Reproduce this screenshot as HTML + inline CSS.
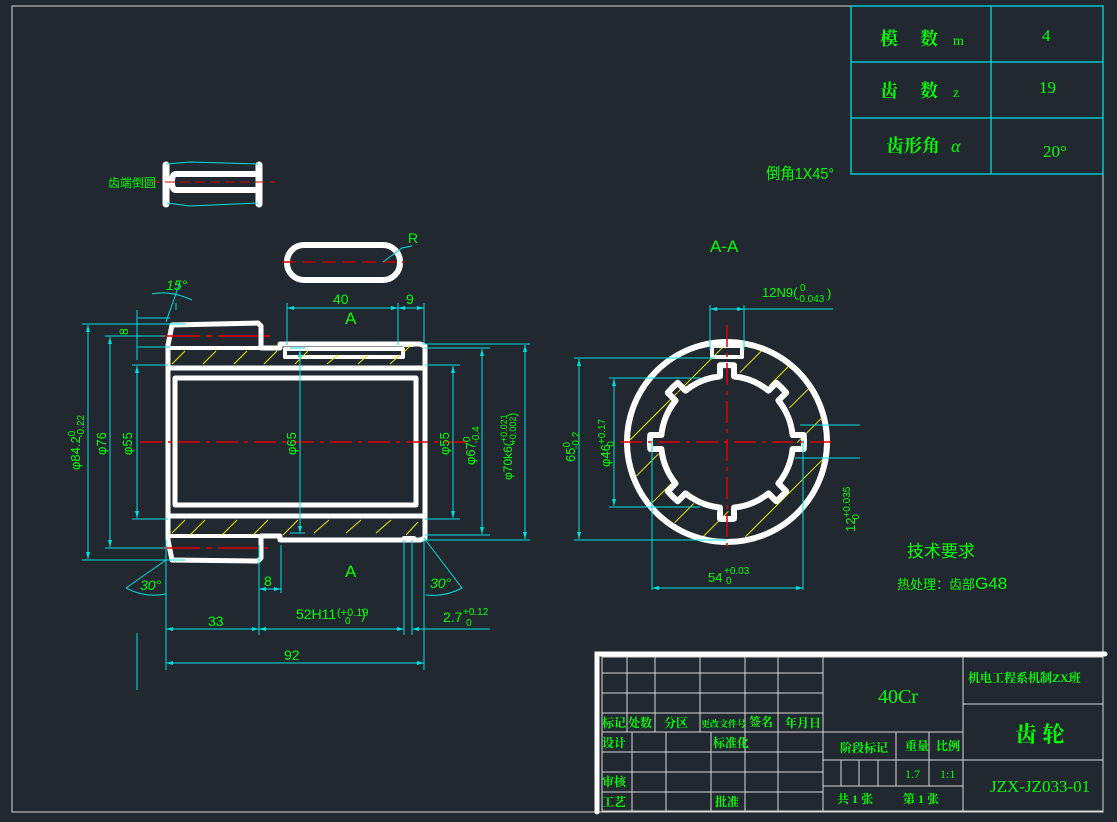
<!DOCTYPE html>
<html><head><meta charset="utf-8"><style>
html,body{margin:0;padding:0;background:#212830;}
svg{display:block}
text{font-family:"Liberation Sans","Noto Sans CJK SC",sans-serif;fill:#00ff00}
.sf text{font-family:"Liberation Serif","Noto Serif CJK SC",serif}
.cy{stroke:#00e0e0;stroke-width:1;fill:none}
.w{stroke:#fff;fill:none;stroke-linejoin:round;stroke-linecap:round}
.red{stroke:#e00000;stroke-width:1.5;stroke-dasharray:22 6 4 6;fill:none}
.hy{stroke:#e8e800;stroke-width:1}
.tb{stroke:#d8d8d8;stroke-width:1;fill:none}
</style></head><body>
<svg id="s" width="1117" height="822" viewBox="0 0 1117 822" xmlns="http://www.w3.org/2000/svg">
<rect width="1117" height="822" fill="#212830"/>
<rect x="12" y="6" width="1091" height="806" class="tb"/>
<g stroke="#00c8c8" stroke-width="1.5" fill="none">
<rect x="851" y="6" width="252" height="168"/>
<line x1="991" y1="6" x2="991" y2="174"/>
<line x1="851" y1="62" x2="1103" y2="62"/>
<line x1="851" y1="118" x2="1103" y2="118"/>
</g>
<g font-size="18" class="sf">
<text x="880" y="45" font-weight="bold">模</text><text x="920" y="45" font-weight="bold">数</text><text x="953" y="45" font-size="14">m</text>
<text x="1042" y="41" font-size="17">4</text>
<text x="880" y="97" font-weight="bold">齿</text><text x="920" y="97" font-weight="bold">数</text><text x="953" y="97" font-size="14">z</text>
<text x="1039" y="93" font-size="17">19</text>
<text x="886" y="152" font-weight="bold">齿形角</text><text x="951" y="152" font-style="italic">α</text>
<text x="1043" y="157" font-size="17">20°</text>
</g>
<text x="766" y="179" font-size="16" transform="translate(766,0) scale(0.9,1) translate(-766,0)">倒角1X45°</text>

<g class="w" stroke-width="7">
<line x1="166" y1="165" x2="166" y2="204"/><line x1="259" y1="165" x2="259" y2="204"/>
<path d="M259 174 H176 Q172 174 172 182 Q172 190 176 190 H259" stroke-width="6"/>
</g>
<path d="M167 164 L190 162 L258 164 M167 203 L190 206 L258 203" class="cy"/>
<line x1="150" y1="182" x2="275" y2="182" stroke="#e00000" stroke-width="1" stroke-dasharray="10 5"/>
<text x="108" y="187" font-size="12">齿端倒圆</text>
<rect x="287" y="245" width="113" height="35" rx="17" class="w" stroke-width="6"/>
<line x1="282" y1="262" x2="405" y2="262" stroke="#c00000" stroke-width="1.5" stroke-dasharray="14 6"/>
<path d="M383 262 L402 248 L412 246" class="cy"/>
<text x="408" y="243" font-size="14">R</text>

<g class="w" stroke-width="5">
<path d="M168 345 L172 325 L258 323 L261 326 L261 348 L280 348 L280 344 L420 344 L425 346 L425 538 L420 540 L280 540 L280 536 L261 536 L261 558 L258 561 L172 560 L168 540 Z"/>
<rect x="175" y="378" width="241" height="127"/>
<line x1="170" y1="368" x2="424" y2="368"/>
<line x1="170" y1="516" x2="424" y2="516"/>
<path d="M285 349 L403 349 L403 357 L285 357 Z" stroke-width="4"/>
<line x1="168" y1="348" x2="258" y2="348" stroke-width="4"/>
<line x1="168" y1="536" x2="258" y2="536" stroke-width="4"/>
<path d="M404 345 L412 345 M404 538 L414 538" stroke-width="4"/>
</g>
<g class="hy">
<path d="M172 364 L185 351 M203 364 L216 351 M234 364 L247 351 M264 364 L277 351 M295 364 L308 351 M327 364 L338 355 M358 364 L368 355 M390 364 L400 355 M404 352 L410 346"/>
<path d="M172 533 L185 520 M190 535 L205 520 M222 535 L237 520 M253 535 L268 520 M283 535 L298 520 M314 533 L329 520 M346 533 L361 520 M376 533 L391 520 M406 535 L418 522"/>
</g>
<line x1="140" y1="442" x2="470" y2="442" class="red"/>
<line x1="160" y1="336" x2="270" y2="336" stroke="#e00000" stroke-width="1.5" stroke-dasharray="40 6 6 6"/>
<line x1="160" y1="548" x2="268" y2="548" stroke="#e00000" stroke-width="1.5" stroke-dasharray="40 6 6 6"/>
<g class="cy">
<path d="M82 324 H185 M82 560 H185 M105 336 H165 M105 548 H165 M132 365 H168 M132 519 H168"/>
<path d="M88 325 V559 M110 337 V547 M137 366 V518"/>
<path d="M138 318 H170 M138 347 H170 M137 310 V360"/>
<path d="M300 350 V533 M290 348 H305 M290 533 H305"/>
<path d="M425 365 H460 M425 519 H460 M453 366 V518"/>
<path d="M425 348 H490 M425 535 H490 M482 349 V534"/>
<path d="M425 344 H530 M425 540 H530 M525 345 V539"/>
<path d="M287 303 V345 M398 303 V345 M424 303 V345 M287 308 H424"/>
<path d="M166 540 V670 M259 545 V635 M281 545 V593 M259 589 H281 M404 540 V635 M412 540 V635 M424 540 V670"/>
<path d="M166 629 H404 M412 629 H490 M166 663 H424"/>
<path d="M137 633 V690"/>
<path d="M166 560 L126 588 M126 588 Q145 598 166 594 M424 538 L462 588 M462 588 Q445 597 426 595"/>
<path d="M166 322 L180 282 M152 294 Q170 290 192 300 M176 303 V310"/>
</g>
<g fill="#00e0e0">
<path d="M88 325 l-2 7 h4z M88 559 l-2 -7 h4z M110 337 l-2 7 h4z M110 547 l-2 -7 h4z M137 366 l-2 7 h4z M137 518 l-2 -7 h4z M300 350 l-2 7 h4z M300 533 l-2 -7 h4z M453 366 l-2 7 h4z M453 518 l-2 -7 h4z M482 349 l-2 7 h4z M482 534 l-2 -7 h4z M525 345 l-2 7 h4z M525 539 l-2 -7 h4z"/>
<path d="M287 308 l7 -2 v4z M398 308 l-7 -2 v4z M398 308 l7 -2 v4z M424 308 l-7 -2 v4z M166 629 l7 -2 v4z M259 629 l-7 -2 v4z M259 629 l7 -2 v4z M404 629 l-7 -2 v4z M412 629 l7 -2 v4z M166 663 l7 -2 v4z M424 663 l-7 -2 v4z M259 589 l7 -2 v4z M281 589 l-7 -2 v4z"/>
</g>
<g font-size="14">
<text x="333" y="304">40</text><text x="406" y="304">9</text>
<text x="345" y="324" font-size="17">A</text><text x="345" y="577" font-size="17">A</text>
<text x="208" y="626">33</text><text x="264" y="586">8</text><text x="284" y="660">92</text>
<text x="296" y="619">52H11</text><text x="337" y="616" font-size="11">(+0.19</text><text x="345" y="624" font-size="10">0</text><text x="361" y="619">)</text>
<text x="443" y="622">2.7</text><text x="463" y="615" font-size="10">+0.12</text><text x="466" y="626" font-size="10">0</text>
<text x="140" y="590" font-style="italic">30°</text><text x="430" y="588" font-style="italic">30°</text>
<text x="166" y="290" font-style="italic">15°</text>
<text transform="translate(128,335) rotate(-90)" font-size="12">8</text>
<text transform="translate(80,470) rotate(-90)" font-size="13">φ84.2<tspan font-size="10" dy="-5">0</tspan><tspan font-size="10" dx="-7" dy="9">-0.22</tspan></text>
<text transform="translate(106,455) rotate(-90)" font-size="13">φ76</text>
<text transform="translate(132,455) rotate(-90)" font-size="13">φ55</text>
<text transform="translate(296,455) rotate(-90)" font-size="13">φ65</text>
<text transform="translate(449,455) rotate(-90)" font-size="13">φ55</text>
<text transform="translate(475,465) rotate(-90)" font-size="13">φ67<tspan font-size="10" dy="-5">0</tspan><tspan font-size="10" dx="-7" dy="9">-0.4</tspan></text>
<text transform="translate(512,480) rotate(-90)" font-size="12">φ70k6(<tspan font-size="9" dy="-5">+0.021</tspan><tspan font-size="9" dx="-30" dy="9">+0.002</tspan>)</text>
</g>

<text x="710" y="252" font-size="17">A-A</text>
<circle cx="727" cy="442" r="100" class="w" stroke-width="6"/>
<g id="hat" class="hy"></g>
<path id="spl" class="w" stroke-width="6"/>
<rect x="712" y="346" width="30" height="11" class="w" stroke-width="4"/>
<line x1="727" y1="325" x2="727" y2="552" class="red"/>
<line x1="620" y1="442" x2="838" y2="442" class="red"/>
<g class="cy">
<path d="M710 305 V350 M744 305 V350 M710 309 H833"/>
<path d="M574 358 H715 M574 540 H727 M579 359 V539"/>
<path d="M609 378 H700 M609 507 H700 M614 379 V506"/>
<path d="M652 440 V590 M803 440 V590 M652 588 H803"/>
<path d="M800 425 H860 M795 458 H860"/>
</g>
<g fill="#00e0e0">
<path d="M710 309 l7 -2 v4z M744 309 l-7 -2 v4z M579 359 l-2 7 h4z M579 539 l-2 -7 h4z M614 379 l-2 7 h4z M614 506 l-2 -7 h4z M652 588 l7 -2 v4z M803 588 l-7 -2 v4z"/>
</g>
<g font-size="13">
<text x="762" y="297">12N9(</text><text x="800" y="291" font-size="10">0</text><text x="796" y="302" font-size="10">-0.043</text><text x="827" y="298">)</text>
<text transform="translate(575,462) rotate(-90)">65<tspan font-size="10" dy="-5">0</tspan><tspan font-size="10" dx="-7" dy="9">-0.2</tspan></text>
<text transform="translate(610,467) rotate(-90)">φ46<tspan font-size="10" dy="-5">+0.17</tspan><tspan font-size="10" dx="-28" dy="9">0</tspan></text>
<text transform="translate(855,532) rotate(-90)">12<tspan font-size="10" dy="-5">+0.035</tspan><tspan font-size="10" dx="-33" dy="9">0</tspan></text>
<text x="708" y="582">54</text><text x="724" y="574" font-size="10">+0.03</text><text x="726" y="584" font-size="10">0</text>
</g>
<text x="907" y="557" font-size="17">技术要求</text>
<text x="897" y="589" font-size="13">热处理：齿部<tspan font-size="17">G48</tspan></text>

<g class="tb">
<rect x="602" y="657" width="501" height="154"/>
<path d="M602 673 H823 M602 693 H823 M602 713 H823 M602 732 H823 M602 752 H823 M602 772 H823 M602 792 H823"/>
<path d="M627 657 V732 M655 657 V732 M700 657 V732 M745 657 V811 M778 657 V811 M823 657 V811"/>
<path d="M632 732 V811 M666 732 V811 M711 732 V811"/>
<path d="M823 732 H963 M823 760 H963 M823 786 H963 M963 657 V811 M896 732 V786 M929 732 V786 M841 760 V786 M859 760 V786 M878 760 V786"/>
<path d="M963 704 H1103 M963 760 H1103"/>
</g>
<path d="M597 812 V654 H1105" stroke="#fff" stroke-width="5" fill="none" stroke-linecap="round"/>
<g font-size="12" class="sf" font-weight="bold">
<text x="602" y="727">标记</text><text x="628" y="727">处数</text><text x="664" y="727">分区</text><text x="701" y="727" font-size="9">更改文件号</text><text x="749" y="726">签名</text><text x="785" y="727">年月日</text>
<text x="602" y="747">设计</text><text x="713" y="747">标准化</text>
<text x="602" y="786">审核</text><text x="602" y="806">工艺</text><text x="715" y="806">批准</text>
<text x="840" y="752">阶段标记</text><text x="905" y="750">重量</text><text x="936" y="750">比例</text>
<text x="905" y="778" font-weight="normal">1.7</text><text x="940" y="778" font-weight="normal">1:1</text>
<text x="837" y="803">共 1  张</text><text x="903" y="803">第 1  张</text>
<text x="968" y="682">机电工程系机制ZX班</text>
<text x="878" y="703" font-size="20" font-weight="normal">40Cr</text>
<text x="1015" y="742" font-size="22">齿 轮</text>
<text x="990" y="792" font-size="17" font-weight="normal">JZX-JZ033-01</text>
</g>
</svg>
<script>
(function(){
var cx=727,cy=442,rmin=66,rmaj=77,n=8,hw=7;
var d="";
for(var i=0;i<n;i++){
 var a=i*Math.PI*2/n;
 var dmin=Math.asin(hw/rmin),dmaj=Math.asin(hw/rmaj);
 var p1=[cx+rmin*Math.cos(a-dmin),cy+rmin*Math.sin(a-dmin)];
 var p2=[cx+rmaj*Math.cos(a-dmaj),cy+rmaj*Math.sin(a-dmaj)];
 var p3=[cx+rmaj*Math.cos(a+dmaj),cy+rmaj*Math.sin(a+dmaj)];
 var p4=[cx+rmin*Math.cos(a+dmin),cy+rmin*Math.sin(a+dmin)];
 d+=(i==0?"M":"L")+p1[0].toFixed(1)+" "+p1[1].toFixed(1)+" L"+p2[0].toFixed(1)+" "+p2[1].toFixed(1)+" A"+rmaj+" "+rmaj+" 0 0 1 "+p3[0].toFixed(1)+" "+p3[1].toFixed(1)+" L"+p4[0].toFixed(1)+" "+p4[1].toFixed(1);
 var an=(i+1)*Math.PI*2/n-dmin;
 d+=" A"+rmin+" "+rmin+" 0 0 1 "+(cx+rmin*Math.cos(an)).toFixed(1)+" "+(cy+rmin*Math.sin(an)).toFixed(1);
}
document.getElementById("spl").setAttribute("d",d+"Z");
var g=document.getElementById("hat"),ns="http://www.w3.org/2000/svg";
for(var k=-160;k<=160;k+=30){
 var ln=[];
 for(var t=-110;t<=110;t+=1){
  var x=cx+k/Math.SQRT2+t/Math.SQRT2,y=cy+k/Math.SQRT2-t/Math.SQRT2;
  var r=Math.hypot(x-cx,y-cy);
  ln.push(r<97&&r>70);
 }
 var s=null;
 for(var j=0;j<ln.length;j++){
  if(ln[j]&&s===null)s=j;
  if((!ln[j]||j==ln.length-1)&&s!==null){
   var t1=s-110,t2=j-110;
   var L=document.createElementNS(ns,"line");
   L.setAttribute("x1",cx+k/Math.SQRT2+t1/Math.SQRT2);L.setAttribute("y1",cy+k/Math.SQRT2-t1/Math.SQRT2);
   L.setAttribute("x2",cx+k/Math.SQRT2+t2/Math.SQRT2);L.setAttribute("y2",cy+k/Math.SQRT2-t2/Math.SQRT2);
   g.appendChild(L);s=null;
  }
 }
}
})();
</script>
</body></html>
